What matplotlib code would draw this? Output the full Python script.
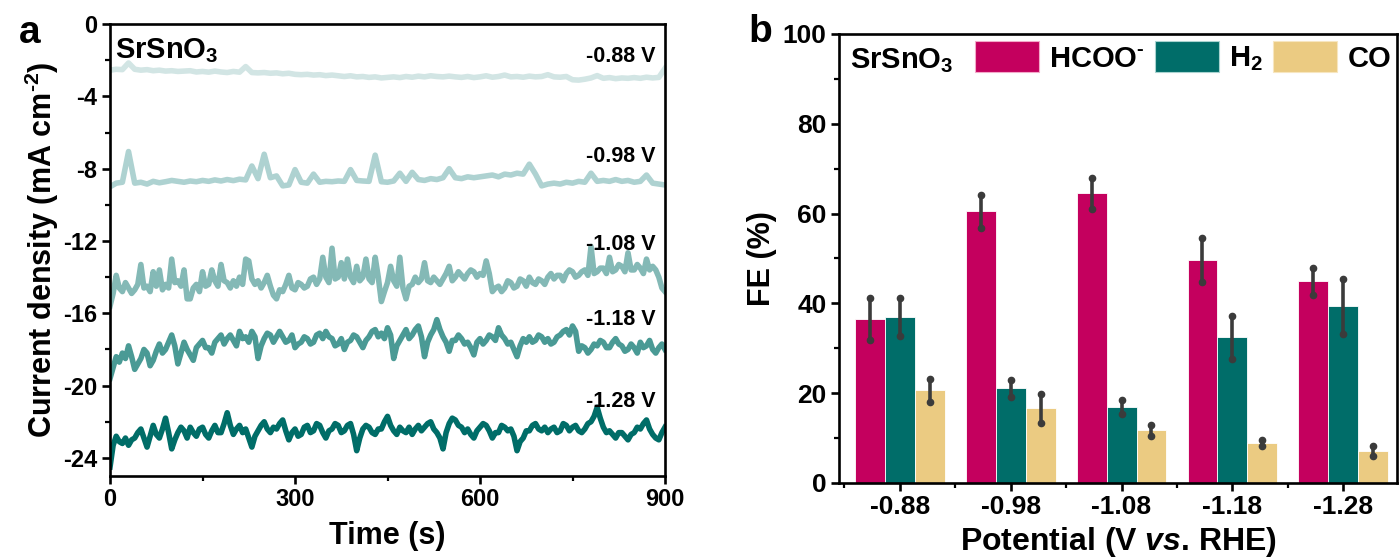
import numpy as np
import matplotlib
matplotlib.use('Agg')
import matplotlib.pyplot as plt
from matplotlib.patches import Patch
from matplotlib.ticker import MultipleLocator, FixedLocator

plt.rcParams['font.family'] = ['Liberation Sans', 'DejaVu Sans']
plt.rcParams['font.weight'] = 'bold'
plt.rcParams['axes.labelweight'] = 'bold'
plt.rcParams['axes.unicode_minus'] = False
plt.rcParams['mathtext.fontset'] = 'custom'
plt.rcParams['mathtext.rm'] = 'Liberation Sans:bold'
plt.rcParams['mathtext.it'] = 'Liberation Sans:bold:italic'
plt.rcParams['mathtext.bf'] = 'Liberation Sans:bold'
plt.rcParams['mathtext.default'] = 'rm'

# ---- panel a: chronoamperometry ----
# the two quiet traces are read every 10 s, the noisy ones every 5 s
time_10 = np.arange(0, 901, 10)
time_5 = np.arange(0, 901, 5)

j_088 = [-2.55, -2.5, -2.52, -2.15, -2.5, -2.55, -2.52, -2.58, -2.55, -2.6,
         -2.58, -2.62, -2.6, -2.58, -2.65, -2.62, -2.66, -2.6, -2.65, -2.68,
         -2.62, -2.66, -2.35, -2.68, -2.7, -2.68, -2.72, -2.7, -2.75, -2.72,
         -2.78, -2.8, -2.78, -2.82, -2.8, -2.85, -2.82, -2.86, -2.9, -2.86,
         -2.92, -2.9, -2.95, -2.92, -2.98, -2.95, -2.92, -2.96, -2.9, -2.94,
         -2.88, -2.92, -2.86, -2.9, -2.92, -2.88, -2.92, -2.95, -2.9, -2.96,
         -2.92, -2.86, -2.94, -2.9, -2.82, -2.92, -2.9, -2.94, -2.88, -2.92,
         -2.9, -2.8, -2.92, -2.94, -2.9, -3.08, -3.1, -3.05, -2.98, -2.85,
         -3.0, -2.96, -3.02, -2.98, -3.0, -2.96, -3.0, -2.94, -2.98, -2.95, -2.45]

j_098 = [-9.0, -8.8, -8.75, -7.05, -8.8, -8.75, -8.85, -8.7, -8.78, -8.72,
         -8.65, -8.7, -8.75, -8.68, -8.72, -8.65, -8.7, -8.62, -8.68, -8.6,
         -8.66, -8.58, -8.62, -7.85, -8.55, -7.2, -8.5, -8.4, -8.95, -8.9,
         -8.05, -8.75, -8.8, -8.3, -8.75, -8.7, -8.72, -8.68, -8.7, -8.05,
         -8.65, -8.68, -8.7, -7.25, -8.72, -8.75, -8.68, -8.25, -8.7, -8.2,
         -8.6, -8.65, -8.55, -8.6, -8.5, -8.0, -8.5, -8.55, -8.45, -8.5,
         -8.45, -8.4, -8.35, -8.45, -8.3, -8.35, -8.25, -8.3, -7.75, -8.3,
         -8.95, -8.85, -8.8, -8.85, -8.75, -8.8, -8.7, -8.75, -8.25, -8.7,
         -8.65, -8.7, -8.6, -8.7, -8.65, -8.75, -8.7, -8.35, -8.8, -8.85, -8.9]

j_108 = [-15.6, -14.9, -13.9, -14.6, -14.8, -14.3, -14.6, -14.9, -14.7, -14.4,
         -13.3, -14.6, -14.5, -14.8, -13.7, -14.5, -13.6, -14.7, -14.4, -14.6,
         -13.0, -14.3, -14.2, -14.5, -13.6, -15.2, -15.2, -14.6, -14.4, -14.8,
         -13.7, -14.5, -14.4, -13.6, -14.2, -14.5, -13.3, -14.2, -14.3, -14.6,
         -14.2, -14.5, -14.0, -14.4, -13.0, -13.1, -14.1, -14.4, -14.2, -14.6,
         -14.3, -13.9, -14.5, -15.0, -15.2, -14.7, -14.8, -14.4, -13.9, -14.6,
         -14.7, -14.3, -14.4, -14.6, -14.5, -14.1, -14.0, -14.4, -14.1, -12.9,
         -14.0, -14.3, -12.4, -14.1, -14.0, -13.2, -14.1, -13.0, -14.0, -14.3,
         -13.4, -14.2, -14.0, -13.0, -14.1, -14.3, -12.9, -14.0, -15.35, -14.8,
         -14.3, -13.4, -14.2, -14.5, -12.9, -14.6, -15.2, -14.5, -14.4, -14.0,
         -14.3, -14.1, -13.2, -14.2, -14.3, -14.0, -14.2, -14.4, -14.1, -13.8,
         -13.4, -14.2, -14.0, -13.7, -13.9, -14.1, -13.8, -13.6, -13.7, -14.0,
         -13.8, -13.9, -13.1, -13.8, -14.8, -14.6, -14.5, -14.8, -14.6, -14.2,
         -14.3, -14.6, -14.5, -14.1, -14.2, -14.5, -14.0, -14.3, -14.4, -14.1,
         -14.2, -14.4, -14.0, -13.8, -14.1, -13.9, -13.9, -14.2, -13.8, -13.6,
         -13.7, -14.0, -13.9, -13.7, -13.6, -13.9, -12.3, -13.8, -13.7, -13.5,
         -13.5, -13.8, -12.9, -13.7, -13.6, -13.3, -13.4, -13.7, -12.65, -13.6,
         -13.6, -13.3, -13.5, -13.8, -13.0, -13.6, -13.4, -13.6, -14.0, -14.6,
         -14.8]

j_118 = [-19.6, -19.0, -18.4, -18.7, -18.2, -18.5, -17.8, -18.4, -19.1, -18.8,
         -18.5, -18.0, -18.2, -18.9, -18.6, -18.1, -17.7, -18.2, -18.0, -17.6,
         -17.2, -17.8, -18.8, -18.2, -17.6, -18.0, -18.3, -18.6, -17.9, -17.7,
         -17.5, -17.9, -17.9, -18.2, -17.6, -17.4, -17.2, -17.7, -17.4, -17.2,
         -17.5, -17.8, -17.0, -17.4, -17.3, -17.6, -17.0, -17.3, -18.5, -17.8,
         -17.4, -17.1, -17.2, -17.6, -17.3, -17.0, -17.3, -17.6, -17.5, -17.2,
         -17.9, -17.7, -17.6, -17.3, -17.4, -17.7, -17.6, -17.2, -17.1, -17.4,
         -17.0, -17.3, -17.4, -17.8, -17.7, -17.4, -18.0, -17.6, -17.5, -17.2,
         -17.3, -17.6, -17.9, -17.5, -17.3, -17.0, -16.9, -17.3, -17.1, -17.4,
         -16.8, -17.2, -18.5, -17.8, -17.5, -17.2, -16.9, -17.4, -17.2, -16.9,
         -16.7, -17.3, -18.4, -17.6, -17.2, -16.9, -16.35, -16.9, -17.3, -17.6,
         -18.1, -17.5, -17.5, -17.2, -17.4, -17.7, -17.6, -17.9, -18.3, -17.6,
         -17.4, -17.7, -17.5, -17.2, -17.3, -17.5, -16.8, -17.2, -17.4, -17.7,
         -17.6, -18.0, -18.4, -17.8, -17.4, -17.6, -17.3, -17.6, -17.5, -17.2,
         -17.3, -17.6, -17.4, -17.7, -17.6, -17.3, -17.2, -17.0, -16.9, -17.2,
         -16.7, -17.0, -18.1, -17.8, -17.9, -18.2, -18.0, -17.7, -17.8, -17.5,
         -17.6, -17.9, -17.9, -17.6, -17.4, -17.7, -17.8, -18.1, -18.0, -17.7,
         -17.9, -18.2, -17.6, -17.9, -17.8, -17.5, -18.0, -18.2, -17.9, -17.7,
         -18.0]

j_128 = [-24.5, -23.3, -22.8, -23.1, -23.2, -22.9, -23.3, -23.0, -22.9, -22.6,
         -22.4, -22.9, -23.4, -22.8, -22.2, -22.7, -22.9, -22.4, -21.8, -22.6,
         -23.5, -23.0, -22.6, -22.3, -22.5, -22.9, -22.3, -22.6, -22.8, -22.4,
         -22.3, -22.7, -22.9, -22.5, -22.2, -22.6, -22.6, -22.1, -21.5, -22.2,
         -22.7, -22.4, -22.2, -22.6, -22.4, -22.9, -23.4, -22.8, -22.5, -22.2,
         -22.0, -22.4, -22.6, -22.3, -22.4, -22.1, -21.9, -22.5, -23.0, -22.6,
         -22.4, -22.8, -22.7, -22.3, -22.2, -22.6, -22.5, -22.1, -22.2, -22.6,
         -22.9, -22.5, -22.4, -22.1, -22.2, -22.6, -22.5, -22.2, -22.1, -22.7,
         -23.6, -22.9, -22.4, -22.2, -22.3, -22.6, -22.7, -22.4, -22.4, -22.0,
         -21.7, -22.2, -22.5, -22.7, -22.3, -22.5, -22.6, -22.3, -22.7, -22.4,
         -22.2, -22.5, -22.3, -22.1, -22.0, -22.4, -22.6, -22.9, -23.5, -22.6,
         -22.1, -21.8, -21.9, -22.2, -22.3, -22.6, -22.4, -22.7, -22.9, -22.5,
         -22.3, -22.1, -22.2, -22.5, -22.9, -22.6, -22.6, -22.2, -22.3, -22.5,
         -22.4, -22.8, -23.6, -23.1, -22.9, -22.5, -22.5, -22.2, -22.1, -22.4,
         -22.5, -22.3, -22.6, -22.4, -22.3, -22.6, -22.5, -22.1, -22.2, -22.5,
         -22.3, -22.2, -22.5, -22.6, -22.4, -22.1, -22.0, -21.7, -21.2, -21.8,
         -22.3, -22.6, -22.5, -22.7, -22.9, -22.6, -22.6, -22.8, -23.0, -22.7,
         -22.6, -22.3, -22.4, -22.1, -21.9, -22.4, -22.7, -22.9, -23.0, -22.6,
         -22.3]

traces = [(time_10, j_088), (time_10, j_098), (time_5, j_108), (time_5, j_118), (time_5, j_128)]
trace_labels = ['-0.88 V', '-0.98 V', '-1.08 V', '-1.18 V', '-1.28 V']
label_y = [-1.8, -7.35, -12.2, -16.35, -20.9]
trace_colors = ['#D2E5E4', '#AED2D1', '#84B9B6', '#4A9A95', '#006D68']

# ---- panel b: Faradaic efficiency ----
potentials = ['-0.88', '-0.98', '-1.08', '-1.18', '-1.28']
fe_hcoo = [36.5, 60.5, 64.5, 49.7, 44.9]
err_hcoo = [4.7, 3.7, 3.4, 4.9, 3.0]
fe_h2 = [37.0, 21.1, 16.9, 32.4, 39.3]
err_h2 = [4.3, 1.9, 1.5, 4.8, 6.1]
fe_co = [20.6, 16.6, 11.7, 8.9, 7.1]
err_co = [2.5, 3.2, 1.3, 0.6, 1.1]

fig = plt.figure(figsize=(14, 5.6), dpi=100)

ax1 = fig.add_axes([0.0786, 0.15, 0.3964, 0.807])
for (t, j), c in zip(traces, trace_colors):
    ax1.plot(t, j, color=c, lw=4.0)
for lab, yy in zip(trace_labels, label_y):
    ax1.text(885, yy, lab, ha='right', va='center', fontsize=15.5)
ax1.text(8, -1.45, 'SrSnO$_3$', ha='left', va='center', fontsize=21)
ax1.set_xlim(0, 900)
ax1.set_ylim(-25, 0)
ax1.xaxis.set_major_locator(MultipleLocator(300))
ax1.xaxis.set_minor_locator(MultipleLocator(150))
ax1.yaxis.set_major_locator(MultipleLocator(4))
ax1.yaxis.set_minor_locator(MultipleLocator(2))
ax1.set_xlabel('Time (s)', fontsize=22, labelpad=7)
ax1.set_ylabel('Current density (mA cm$^{\\text{-2}}$)', fontsize=22, labelpad=2)

ax2 = fig.add_axes([0.5993, 0.1375, 0.3986, 0.802])
x = np.arange(len(potentials))
w = 0.27
for off, vals, errs, c in [(-w, fe_hcoo, err_hcoo, '#C4005E'),
                           (0, fe_h2, err_h2, '#006D69'),
                           (w, fe_co, err_co, '#EBCB82')]:
    ax2.bar(x + off, vals, width=w, color=c, edgecolor='white', linewidth=0.6, zorder=2)
    ax2.errorbar(x + off, vals, yerr=errs, fmt='none', ecolor='#3B3B3B',
                 elinewidth=2.6, capsize=0, zorder=3)
    lo = np.array(vals) - np.array(errs)
    hi = np.array(vals) + np.array(errs)
    ax2.plot(x + off, lo, 'o', color='#3B3B3B', ms=4.5, zorder=4)
    ax2.plot(x + off, hi, 'o', color='#3B3B3B', ms=4.5, zorder=4)
ax2.set_xlim(-0.548, 4.485)
ax2.set_ylim(0, 100)
ax2.set_xticks(x)
ax2.set_xticklabels(potentials)
ax2.xaxis.set_minor_locator(FixedLocator([-0.5, 0.5, 1.5, 2.5, 3.5]))
ax2.yaxis.set_major_locator(MultipleLocator(20))
ax2.yaxis.set_minor_locator(MultipleLocator(10))
ax2.set_xlabel('Potential (V $\\mathit{vs}$. RHE)', fontsize=23, labelpad=4)
ax2.set_ylabel('FE (%)', fontsize=22, labelpad=4)
ax2.text(0.02, 0.94, 'SrSnO$_3$', transform=ax2.transAxes, ha='left', va='center', fontsize=21)
handles = [Patch(facecolor='#C4005E', edgecolor='#F3A9C9', lw=0.8),
           Patch(facecolor='#006D69', edgecolor='#A9D3D0', lw=0.8),
           Patch(facecolor='#EBCB82', edgecolor='#F7E6C0', lw=0.8)]
ax2.legend(handles, ['HCOO$^{\\text{-}}$', 'H$_2$', 'CO'], ncol=3, loc='upper right',
           bbox_to_anchor=(0.995, 0.99), frameon=False, fontsize=21,
           handlelength=2.2, handleheight=1.25, handletextpad=0.35,
           columnspacing=0.35, borderaxespad=0, borderpad=0.1)

for ax in (ax1, ax2):
    for s in ax.spines.values():
        s.set_linewidth(1.9)
    ax.tick_params(which='major', direction='out', length=6, width=1.9, pad=3)
    ax.tick_params(which='minor', direction='out', length=3.5, width=1.6)
    ax.tick_params(top=False, right=False, which='both')
ax1.tick_params(which='major', labelsize=17)
ax2.tick_params(which='major', labelsize=19)

fig.text(30 / 1400, 1 - 33 / 560, 'a', fontsize=28, ha='center', va='center')
fig.text(760 / 1400, 1 - 32 / 560, 'b', fontsize=28, ha='center', va='center')

fig.savefig('out.png', dpi=100)
